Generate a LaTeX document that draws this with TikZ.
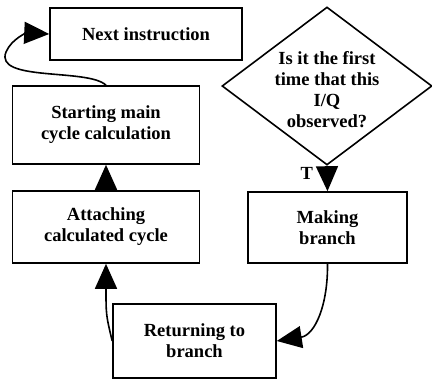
\documentclass[tikz,border=0pt]{standalone}
\usepackage{fontspec}
\setmainfont{Liberation Serif}
\usetikzlibrary{shapes.geometric,arrows.meta}
\begin{document}
\begin{tikzpicture}[x=1pt,y=-1pt,
  every node/.style={font=\fontsize{18.5}{21}\selectfont\bfseries, align=center},
  stepbox/.style={draw, line width=1.6pt, inner sep=0pt},
  decision/.style={draw, line width=1.6pt, shape=diamond, inner sep=0pt,
    minimum width=210pt, minimum height=158pt, shape aspect=1.33},
  arr/.style={line width=1.6pt, -{Triangle[length=25pt,width=22pt]}}]
\useasboundingbox (0,0) rectangle (432,381);

\node[stepbox, minimum width=192pt, minimum height=52pt] (next) at (146,34) {Next instruction};
\node[stepbox, minimum width=187pt, minimum height=78pt] (start) at (106,125) {Starting main\\cycle calculation};
\node[stepbox, minimum width=187pt, minimum height=72pt] (attach) at (106,227) {Attaching\\calculated cycle};
\node[stepbox, minimum width=163pt, minimum height=74pt] (ret) at (194.5,341) {Returning to\\branch};
\node[stepbox, minimum width=159pt, minimum height=71pt] (make) at (327.5,227.5) {Making\\branch};
\node[decision] (ask) at (327,86) {};
\node (asktext) at (327,90) {Is it the first\\time that this\\I/Q\\observed?};

\draw[arr] (start.north) .. controls (88,68) and (-6,82) .. (6,52)
  .. controls (12,38) and (28,33) .. (next.west);
\draw[arr] (attach.north) -- (start.south);
\draw[arr] (ask.south) -- node[left=10pt, pos=0.3] (tlabel) {T} (make.north);
\draw[arr] (make.south) .. controls (328,305) and (315,335) .. (ret.east);
\draw[arr] (ret.west) .. controls (106,315) .. (attach.south);
\end{tikzpicture}
\end{document}
